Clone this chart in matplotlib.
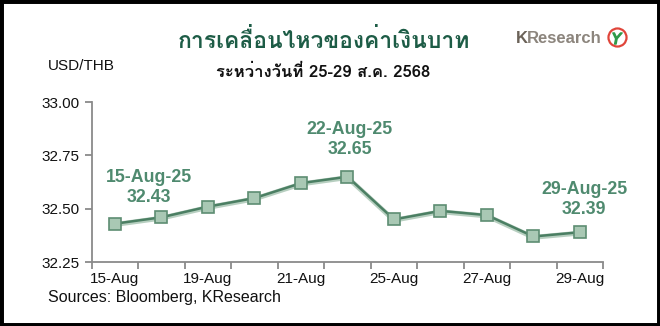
import matplotlib
matplotlib.use("Agg")
import matplotlib.pyplot as plt
from matplotlib import font_manager
from matplotlib.ft2font import FT2Font
from matplotlib.lines import Line2D
from matplotlib.patches import Rectangle

# ---- data ----
dates = ["15-Aug", "18-Aug", "19-Aug", "20-Aug", "21-Aug", "22-Aug",
         "25-Aug", "26-Aug", "27-Aug", "28-Aug", "29-Aug"]
usd_thb = [32.43, 32.46, 32.51, 32.55, 32.62, 32.65,
           32.45, 32.49, 32.47, 32.37, 32.39]
shown_labels = ["15-Aug", "19-Aug", "21-Aug", "25-Aug", "27-Aug", "29-Aug"]
callouts = {0: "15-Aug-25", 5: "22-Aug-25", 10: "29-Aug-25"}
callout_offsets = {0: (34, 36), 5: (2, 37), 10: (4, 33)}

title = "การเคลื่อนไหวของค่าเงินบาท"
subtitle = "ระหว่างวันที่ 25-29 ส.ค. 2568"


# find some installed font that has Thai glyphs
def find_thai_font():
    for f in font_manager.fontManager.ttflist:
        try:
            cmap = FT2Font(f.fname).get_charmap()
        except Exception:
            continue
        if 0x0E01 in cmap and 0x0E40 in cmap:
            return f.name
    return "DejaVu Sans"


thai_font = find_thai_font()

plt.rcParams["font.family"] = ["Liberation Sans", "DejaVu Sans"]

green = "#4f8a6f"
line_green = "#4b7f63"

fig = plt.figure(figsize=(6.6, 3.26), dpi=100)
ax = fig.add_axes([0.139, 0.196, 0.775, 0.491])

x = list(range(len(dates)))
# soft shadow under the line
ax.plot(x, [v - 0.004 for v in usd_thb], color="#b7cfc0", lw=3.5,
        zorder=1)
ax.plot(x, usd_thb, color=line_green, lw=1.8, marker="s", markersize=8,
        markerfacecolor="#a9c8b4", markeredgecolor="#5d8d72",
        markeredgewidth=1.2, zorder=2)

ax.set_xlim(-0.5, len(dates) - 0.5)
ax.set_ylim(32.25, 33.00)
ax.set_yticks([32.25, 32.50, 32.75, 33.00])
ax.set_yticklabels(["32.25", "32.50", "32.75", "33.00"])

# category ticks between points, labels every other day
ax.set_xticks([i - 0.5 for i in range(len(dates) + 1)])
ax.set_xticklabels([])
for lab in shown_labels:
    i = dates.index(lab)
    ax.text(i, -0.06, lab, transform=ax.get_xaxis_transform(),
            ha="center", va="top", fontsize=11, color="#111111")

for s in ["top", "right"]:
    ax.spines[s].set_visible(False)
for s in ["left", "bottom"]:
    ax.spines[s].set_color("#8a8a8a")
    ax.spines[s].set_linewidth(1.3)
ax.tick_params(axis="both", colors="#8a8a8a", length=5, width=1.3,
               labelsize=11, labelcolor="#111111")
ax.tick_params(axis="y", pad=4)

for i, lab in callouts.items():
    dx, dy = callout_offsets[i]
    ax.annotate(lab + "\n" + "%.2f" % usd_thb[i], (i, usd_thb[i]),
                xytext=(dx, dy), textcoords="offset pixels",
                ha="center", va="center", multialignment="center",
                fontsize=12.8, fontweight="bold", color=green,
                linespacing=1.25)

# titles and labels
fig.text(0.49, 0.877, title, ha="center", va="center", fontsize=16.5,
         fontweight="bold", color="#1d5c46", family=[thai_font, "DejaVu Sans"])
fig.text(0.49, 0.778, subtitle, ha="center", va="center", fontsize=12,
         fontweight="bold", color="#111111", family=[thai_font, "DejaVu Sans"])
fig.text(0.073, 0.797, "USD/THB", ha="left", va="center", fontsize=11,
         color="#111111")
fig.text(0.073, 0.088, "Sources: Bloomberg, KResearch", ha="left",
         va="center", fontsize=11.5, color="#111111")

# KResearch logo
fig.text(0.782, 0.883, "K", ha="left", va="center", fontsize=12,
         fontweight="bold", color="#6b6258")
fig.text(0.799, 0.883, "Research", ha="left", va="center", fontsize=12,
         fontweight="bold", color="#8c857d")
fig.add_artist(Line2D([0.935], [0.885], transform=fig.transFigure,
                      marker="o", markersize=13, markerfacecolor="white",
                      markeredgecolor="#e0453a", markeredgewidth=1.6))
fig.add_artist(Line2D([0.935], [0.882], transform=fig.transFigure,
                      marker="$Y$", markersize=8, color="#2f9a4a"))

# black frame around the image
fig.add_artist(Rectangle((0, 0), 1, 1, transform=fig.transFigure,
                         fill=False, edgecolor="black", lw=5))

fig.savefig("out.png", dpi=100)
